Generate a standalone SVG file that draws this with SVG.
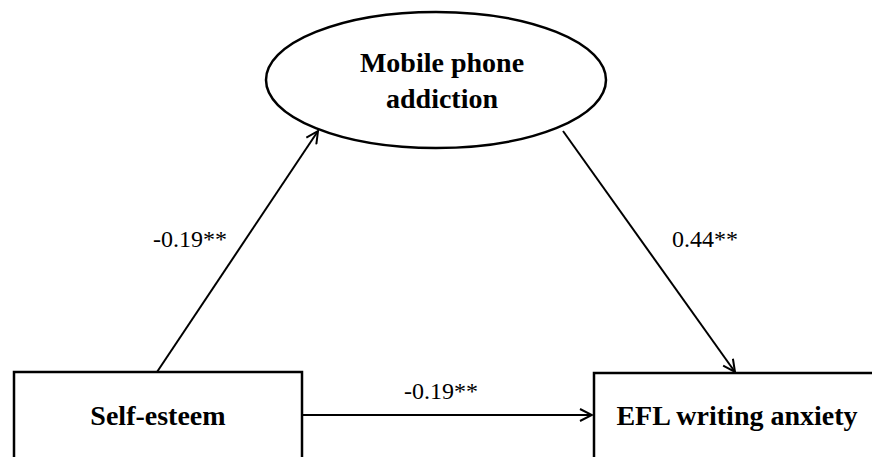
<svg xmlns="http://www.w3.org/2000/svg" width="872" height="457" viewBox="0 0 872 457">
<style>
.node{fill:#fff;stroke:#000;stroke-width:2.5}
.lbl{font-family:"Liberation Serif","Times New Roman",serif;font-weight:bold;font-size:28px;fill:#000;text-anchor:middle}
.coef{font-family:"Liberation Serif","Times New Roman",serif;font-size:24px;fill:#000}
.edge{stroke:#000;stroke-width:2;fill:none}
</style>
<defs>
<marker id="arr" viewBox="0 0 14 14" refX="13" refY="7" markerWidth="14" markerHeight="14" markerUnits="userSpaceOnUse" orient="auto">
<path d="M1,1 L13,7 L1,13" fill="none" stroke="#000" stroke-width="2"/>
</marker>
</defs>
<rect width="872" height="457" fill="#fff"/>
<g id="connectors">
<line class="edge" x1="157" y1="372" x2="318" y2="131" marker-end="url(#arr)"/>
<line class="edge" x1="563" y1="131" x2="735" y2="372" marker-end="url(#arr)"/>
<line class="edge" x1="302" y1="415" x2="592" y2="415" marker-end="url(#arr)"/>
</g>
<g id="mobile">
<ellipse class="node" cx="436" cy="80" rx="170" ry="68"/>
<text class="lbl" x="442" y="72">Mobile phone</text>
<text class="lbl" x="442" y="108">addiction</text>
</g>
<g id="self">
<rect class="node" x="14" y="372" width="288" height="100"/>
<text class="lbl" x="158" y="425">Self-esteem</text>
</g>
<g id="efl">
<rect class="node" x="594" y="373" width="300" height="100"/>
<text class="lbl" x="737" y="425">EFL writing anxiety</text>
</g>
<g id="labels">
<text class="coef" x="153" y="247">-0.19**</text>
<text class="coef" x="672" y="247">0.44**</text>
<text class="coef" x="404" y="399">-0.19**</text>
</g>
</svg>
